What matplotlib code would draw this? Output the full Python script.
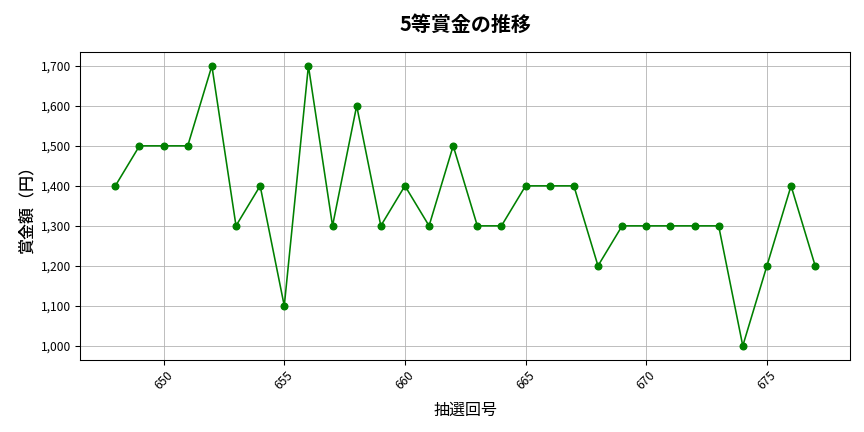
import matplotlib
matplotlib.use("Agg")
import matplotlib.pyplot as plt
from matplotlib.ticker import FuncFormatter, MultipleLocator

plt.rcParams['font.family'] = ['Noto Sans CJK JP', 'DejaVu Sans']

draws = list(range(648, 678))
prizes = [1400, 1500, 1500, 1500, 1700, 1300, 1400, 1100, 1700, 1300,
          1600, 1300, 1400, 1300, 1500, 1300, 1300, 1400, 1400, 1400,
          1200, 1300, 1300, 1300, 1300, 1300, 1000, 1200, 1400, 1200]

fig, ax = plt.subplots(figsize=(9, 4.5), dpi=96)
ax.plot(draws, prizes, color='green', marker='o', markersize=5, linewidth=1.2)
ax.set_title('5等賞金の推移', fontsize=15, fontweight='bold', pad=16)
ax.set_xlabel('抽選回号', fontsize=12, labelpad=7)
ax.set_ylabel('賞金額（円）', fontsize=12, fontweight='medium')
ax.yaxis.set_major_locator(MultipleLocator(100))
ax.yaxis.set_major_formatter(FuncFormatter(lambda v, p: f'{int(v):,}'))
ax.xaxis.set_major_locator(MultipleLocator(5))
ax.tick_params(axis='x', labelrotation=45, labelsize=9)
ax.tick_params(axis='y', labelsize=9)
ax.grid(True, color='#b0b0b0', linewidth=0.6)
fig.subplots_adjust(left=0.093, right=0.984, top=0.88, bottom=0.167)
fig.savefig('out.png', dpi=96)
